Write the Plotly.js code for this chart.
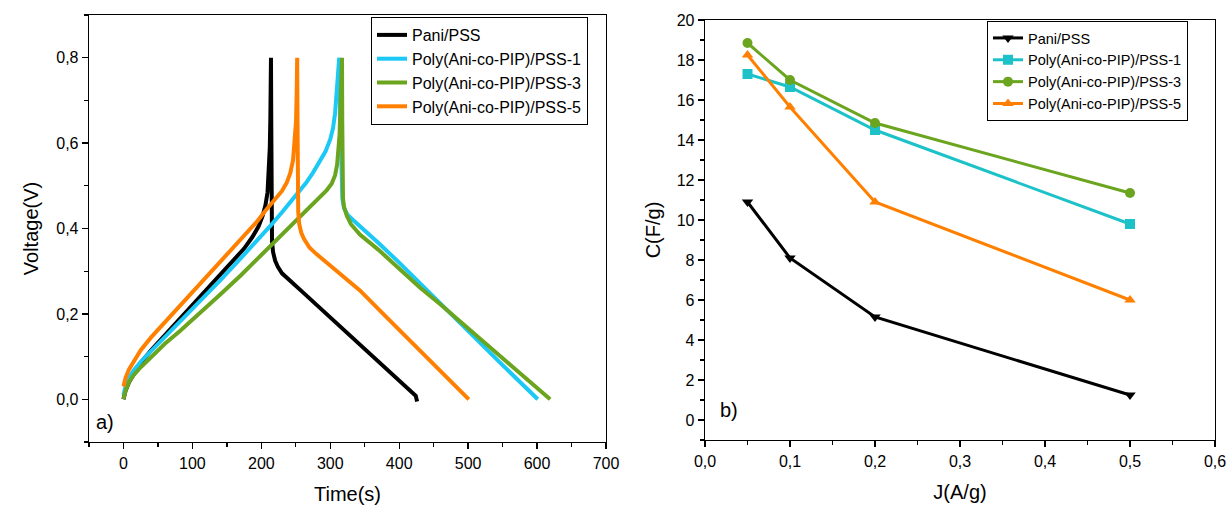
<!DOCTYPE html>
<html>
<head>
<meta charset="utf-8">
<script src="https://cdn.plot.ly/plotly-3.0.1.min.js"></script>
<style>html,body{margin:0;padding:0;background:#fff}#chart{width:1232px;height:512px}</style>
</head>
<body>
<div id="chart"></div>
<script>
// ---- Panel a) galvanostatic charge/discharge curves ----
const seriesNames = ["Pani/PSS", "Poly(Ani-co-PIP)/PSS-1", "Poly(Ani-co-PIP)/PSS-3", "Poly(Ani-co-PIP)/PSS-5"];

const paniTime = [0, 3, 8, 15, 25, 40, 60, 82, 100, 120, 140, 160, 175, 187, 196, 202, 206, 209, 211, 212.3, 213.1, 213.7, 214,
  214.4, 214.7, 215, 215.5, 217, 220, 224, 230, 260, 300, 343, 380, 424, 426];
const paniVolt = [0.0, 0.02, 0.04, 0.06, 0.085, 0.115, 0.15, 0.19, 0.22, 0.255, 0.29, 0.325, 0.353, 0.38, 0.405, 0.43, 0.455, 0.485, 0.53, 0.59, 0.66, 0.74, 0.80,
  0.65, 0.50, 0.40, 0.37, 0.345, 0.325, 0.31, 0.295, 0.251, 0.192, 0.129, 0.075, 0.008, -0.005];

const pss1Time = [0, 3, 8, 15, 25, 40, 60, 82, 110, 140, 170, 200, 213, 230, 250, 265, 275, 285, 293, 300, 304, 307, 309, 310.5, 312, 313,
  314, 315, 316, 317.5, 320, 325, 333, 343, 370, 400, 430, 460, 500, 550, 601];
const pss1Volt = [0.01, 0.03, 0.05, 0.068, 0.088, 0.113, 0.145, 0.18, 0.228, 0.278, 0.33, 0.382, 0.406, 0.438, 0.476, 0.507, 0.531, 0.556, 0.58, 0.609, 0.635, 0.67, 0.71, 0.74, 0.77, 0.80,
  0.70, 0.60, 0.52, 0.47, 0.448, 0.432, 0.42, 0.406, 0.366, 0.32, 0.272, 0.222, 0.157, 0.08, 0.0];

const pss3Time = [0, 3, 8, 15, 25, 40, 60, 82, 110, 140, 170, 200, 213, 240, 260, 280, 295, 302, 307, 310, 312, 313.5, 314.8, 316, 317,
  317.4, 317.8, 318.5, 320, 324, 330, 343, 370, 400, 430, 460, 500, 560, 619];
const pss3Volt = [0.0, 0.02, 0.04, 0.057, 0.075, 0.10, 0.13, 0.16, 0.20, 0.245, 0.29, 0.338, 0.359, 0.402, 0.435, 0.466, 0.49, 0.505, 0.525, 0.55, 0.58, 0.62, 0.687, 0.75, 0.80,
  0.65, 0.52, 0.47, 0.45, 0.43, 0.41, 0.386, 0.35, 0.305, 0.262, 0.222, 0.166, 0.083, 0.0];

const pss5Time = [0, 3, 8, 15, 25, 40, 60, 82, 100, 120, 140, 160, 180, 193, 205, 220, 230, 237, 242, 246, 248.5, 250.3, 251.3, 252,
  252.5, 253, 253.5, 255, 258, 262, 270, 280, 300, 320, 343, 380, 420, 460, 501];
const pss5Volt = [0.03, 0.05, 0.07, 0.09, 0.115, 0.145, 0.18, 0.218, 0.25, 0.285, 0.32, 0.355, 0.39, 0.415, 0.44, 0.468, 0.488, 0.508, 0.53, 0.56, 0.60, 0.65, 0.72, 0.80,
  0.65, 0.50, 0.44, 0.41, 0.39, 0.375, 0.355, 0.34, 0.313, 0.285, 0.255, 0.195, 0.13, 0.065, 0.0];

// ---- Panel b) specific capacitance vs current density ----
const currentDensity = [0.05, 0.1, 0.2, 0.5];
const capPani = [10.9, 8.1, 5.15, 1.25];
const capPss1 = [17.3, 16.65, 14.5, 9.8];
const capPss3 = [18.85, 17.0, 14.85, 11.35];
const capPss5 = [18.25, 15.65, 10.9, 6.0];

const colA = ["#000000", "#1CC8F5", "#6BA51F", "#FF8000"];
const colB = ["#000000", "#1DC2C9", "#6BA51F", "#FF8000"];
const symB = ["triangle-down", "square", "circle", "triangle-up"];

const timeSets = [paniTime, pss1Time, pss3Time, pss5Time];
const voltSets = [paniVolt, pss1Volt, pss3Volt, pss5Volt];
const capSets = [capPani, capPss1, capPss3, capPss5];

const FONT = "Liberation Sans, Arial, sans-serif";
const traces = [];
for (let i = 0; i < 4; i++) {
  traces.push({
    x: timeSets[i], y: voltSets[i], type: "scatter", mode: "lines",
    name: seriesNames[i], line: {color: colA[i], width: 4},
    xaxis: "x", yaxis: "y", legend: "legend"
  });
}
for (let i = 0; i < 4; i++) {
  traces.push({
    x: currentDensity, y: capSets[i], type: "scatter", mode: "lines+markers",
    name: seriesNames[i], line: {color: colB[i], width: 3},
    marker: {color: colB[i], symbol: symB[i], size: 10},
    xaxis: "x2", yaxis: "y2", legend: "legend2"
  });
}

function ax(extra) {
  return Object.assign({
    showline: true, linecolor: "#000", linewidth: 1.3, mirror: true,
    ticks: "outside", ticklen: 6, tickwidth: 1.3, tickcolor: "#000",
    showgrid: false, zeroline: false,
    tickfont: {family: FONT, size: 16, color: "#000"},
  }, extra);
}

const layout = {
  width: 1232, height: 512,
  margin: {l: 0, r: 0, t: 0, b: 0},
  paper_bgcolor: "#fff", plot_bgcolor: "#fff",
  separators: ",.",
  font: {family: FONT, color: "#000"},
  xaxis: ax({
    domain: [89/1232, 606/1232], range: [-50, 700], tick0: 0, dtick: 100,
    anchor: "y",
    minor: {dtick: 50, tick0: 0, ticks: "outside", ticklen: 4, tickcolor: "#000", tickwidth: 1.3},
    title: {text: "Time(s)", font: {family: FONT, size: 20}, standoff: 16}
  }),
  yaxis: ax({
    domain: [1 - 442/512, 1 - 15/512], range: [-0.1, 0.9], tick0: 0, dtick: 0.2, tickformat: ".1f",
    anchor: "x",
    minor: {dtick: 0.1, tick0: 0, ticks: "outside", ticklen: 4, tickcolor: "#000", tickwidth: 1.3},
    title: {text: "Voltage(V)", font: {family: FONT, size: 20}, standoff: 12}
  }),
  xaxis2: ax({
    domain: [705/1232, 1215/1232], range: [0, 0.6], tick0: 0, dtick: 0.1, tickformat: ".1f",
    anchor: "y2",
    minor: {dtick: 0.05, tick0: 0, ticks: "outside", ticklen: 4, tickcolor: "#000", tickwidth: 1.3},
    title: {text: "J(A/g)", font: {family: FONT, size: 20}, standoff: 16}
  }),
  yaxis2: ax({
    domain: [1 - 440/512, 1 - 20/512], range: [-1, 20], tick0: 0, dtick: 2,
    anchor: "x2",
    minor: {dtick: 1, tick0: 0, ticks: "outside", ticklen: 4, tickcolor: "#000", tickwidth: 1.3},
    title: {text: "C(F/g)", font: {family: FONT, size: 20}, standoff: 10}
  }),
  legend: {
    x: 371/1232, y: 1 - 17/512, xanchor: "left", yanchor: "top",
    bgcolor: "#fff", bordercolor: "#000", borderwidth: 1,
    font: {family: FONT, size: 16, color: "#000"}, tracegroupgap: 0
  },
  legend2: {
    x: 987/1232, y: 1 - 21/512, xanchor: "left", yanchor: "top",
    bgcolor: "#fff", bordercolor: "#000", borderwidth: 1,
    font: {family: FONT, size: 14.5, color: "#000"}, tracegroupgap: 0
  },
  annotations: [
    {text: "a)", xref: "paper", yref: "paper", x: 94/1232, y: 1 - 422/512, xanchor: "left", yanchor: "middle",
     showarrow: false, font: {family: FONT, size: 20, color: "#000"}},
    {text: "b)", xref: "paper", yref: "paper", x: 718/1232, y: 1 - 410/512, xanchor: "left", yanchor: "middle",
     showarrow: false, font: {family: FONT, size: 20, color: "#000"}}
  ]
};

Plotly.newPlot("chart", traces, layout, {staticPlot: true, displayModeBar: false});
</script>
</body>
</html>
